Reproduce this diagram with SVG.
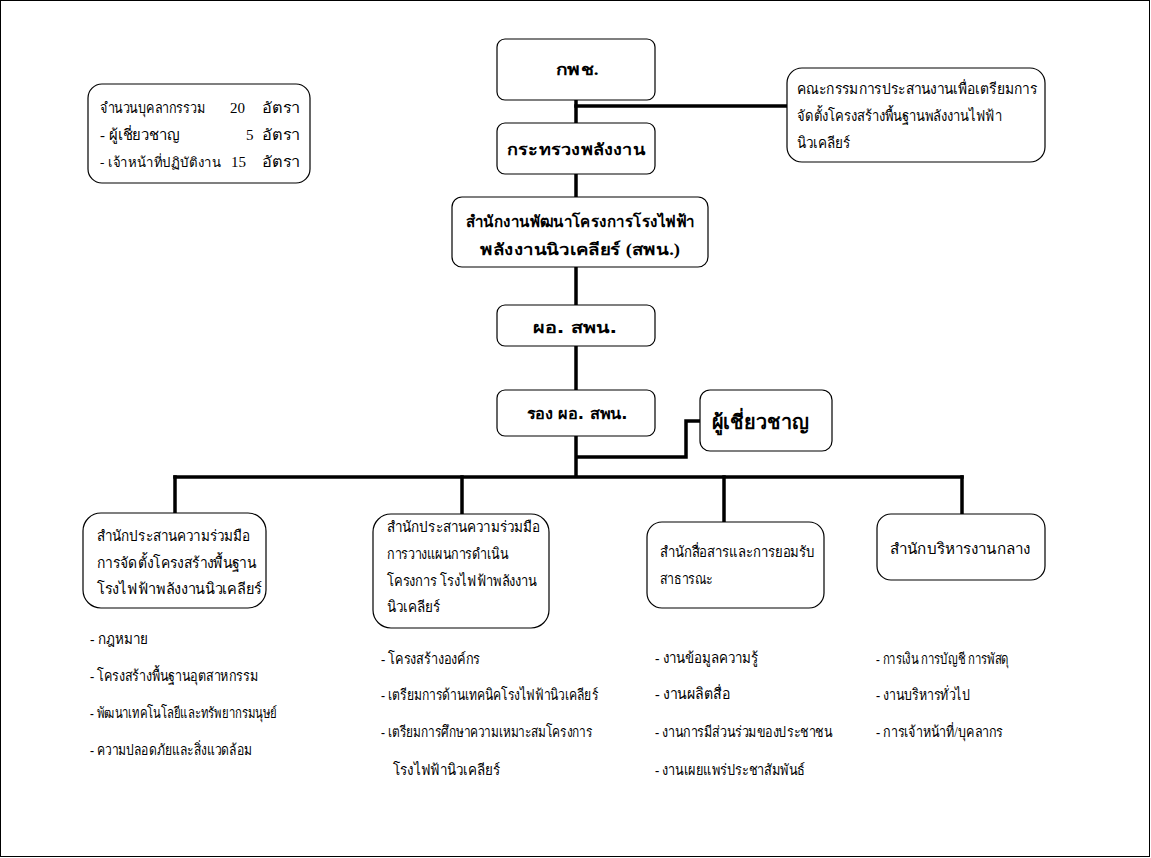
<svg xmlns="http://www.w3.org/2000/svg" width="1151" height="858" viewBox="0 0 1151 858">
<style>
.box{fill:#fff;stroke:#000;stroke-width:1.2}
.ln{fill:none;stroke:#000;stroke-width:3.5;stroke-linecap:square}
text{font-family:"Liberation Serif","DejaVu Serif",serif;font-size:15px;fill:#000}
.b{font-weight:bold;font-size:16px}
.c{text-anchor:middle}
</style>
<rect x="0.5" y="0.5" width="1149" height="856" fill="#fff" stroke="#000" stroke-width="1"/>
<g id="connectors">
<path class="ln" d="M576 100 V476"/>
<path class="ln" d="M576 106 H786"/>
<path class="ln" d="M578 457 H686 V421 H699"/>
<path class="ln" d="M175 477 H962"/>
<path class="ln" d="M175 477 V513"/>
<path class="ln" d="M462 477 V514"/>
<path class="ln" d="M724 477 V522"/>
<path class="ln" d="M962 477 V514"/>
</g>
<g id="info">
<rect class="box" x="88" y="84" width="222" height="99" rx="14"/>
<text x="100" y="113"><tspan textLength="105" lengthAdjust="spacingAndGlyphs">จำนวนบุคลากรรวม</tspan><tspan x="230">20</tspan><tspan x="262" textLength="38" lengthAdjust="spacingAndGlyphs">อัตรา</tspan></text>
<text x="100" y="140"><tspan textLength="80" lengthAdjust="spacingAndGlyphs">- ผู้เชี่ยวชาญ</tspan><tspan x="246">5</tspan><tspan x="262" textLength="38" lengthAdjust="spacingAndGlyphs">อัตรา</tspan></text>
<text x="100" y="167"><tspan style="font-size:13.5px" textLength="121" lengthAdjust="spacingAndGlyphs">- เจ้าหน้าที่ปฏิบัติงาน</tspan><tspan x="231">15</tspan><tspan x="262" textLength="38" lengthAdjust="spacingAndGlyphs">อัตรา</tspan></text>
</g>
<g id="n-kpc">
<rect class="box" x="497" y="39" width="158" height="61" rx="8"/>
<text class="b c" x="577" y="75" textLength="43" lengthAdjust="spacingAndGlyphs">กพช.</text>
</g>
<g id="n-committee">
<rect class="box" x="787" y="68" width="258" height="94" rx="15"/>
<text x="797" y="94" textLength="240" lengthAdjust="spacingAndGlyphs">คณะกรรมการประสานงานเพื่อเตรียมการ</text>
<text x="797" y="121" textLength="205" lengthAdjust="spacingAndGlyphs">จัดตั้งโครงสร้างพื้นฐานพลังงานไฟฟ้า</text>
<text x="797" y="148" textLength="53" lengthAdjust="spacingAndGlyphs">นิวเคลียร์</text>
</g>
<g id="n-ministry">
<rect class="box" x="497" y="123" width="158" height="51" rx="8"/>
<text class="b c" x="576" y="155" textLength="138" lengthAdjust="spacingAndGlyphs">กระทรวงพลังงาน</text>
</g>
<g id="n-office">
<rect class="box" x="452" y="197" width="256" height="70" rx="10"/>
<text class="b c" x="580" y="227" textLength="229" lengthAdjust="spacingAndGlyphs">สำนักงานพัฒนาโครงการโรงไฟฟ้า</text>
<text class="b c" x="580" y="255" textLength="200" lengthAdjust="spacingAndGlyphs">พลังงานนิวเคลียร์ (สพน.)</text>
</g>
<g id="n-director">
<rect class="box" x="497" y="305" width="158" height="41" rx="8"/>
<text class="b c" x="575" y="333" textLength="84" lengthAdjust="spacingAndGlyphs" style="font-family:'DejaVu Sans','Noto Sans',sans-serif;font-size:15px">ผอ. สพน.</text>
</g>
<g id="n-deputy">
<rect class="box" x="497" y="390" width="158" height="46" rx="8"/>
<text class="b c" x="577" y="419" textLength="101" lengthAdjust="spacingAndGlyphs" style="font-family:'DejaVu Sans','Noto Sans',sans-serif;font-size:15px">รอง ผอ. สพน.</text>
</g>
<g id="n-expert">
<rect class="box" x="700" y="390" width="132" height="61" rx="10"/>
<text class="b c" x="760" y="429" textLength="97" lengthAdjust="spacingAndGlyphs" style="font-family:'DejaVu Sans','Noto Sans',sans-serif;font-size:20px">ผู้เชี่ยวชาญ</text>
</g>
<g id="n-div1">
<rect class="box" x="83" y="513" width="183" height="95" rx="18"/>
<text x="97" y="541" textLength="153" lengthAdjust="spacingAndGlyphs">สำนักประสานความร่วมมือ</text>
<text x="97" y="568" textLength="159" lengthAdjust="spacingAndGlyphs">การจัดตั้งโครงสร้างพื้นฐาน</text>
<text x="97" y="594" textLength="165" lengthAdjust="spacingAndGlyphs">โรงไฟฟ้าพลังงานนิวเคลียร์</text>
<text x="90" y="644" textLength="58" lengthAdjust="spacingAndGlyphs">- กฎหมาย</text>
<text x="90" y="681" textLength="168" lengthAdjust="spacingAndGlyphs">- โครงสร้างพื้นฐานอุตสาหกรรม</text>
<text x="90" y="718" textLength="187" lengthAdjust="spacingAndGlyphs">- พัฒนาเทคโนโลยีและทรัพยากรมนุษย์</text>
<text x="90" y="755" textLength="162" lengthAdjust="spacingAndGlyphs">- ความปลอดภัยและสิ่งแวดล้อม</text>
</g>
<g id="n-div2">
<rect class="box" x="373" y="514" width="176" height="114" rx="18"/>
<text x="387" y="532" textLength="153" lengthAdjust="spacingAndGlyphs">สำนักประสานความร่วมมือ</text>
<text x="387" y="559" textLength="121" lengthAdjust="spacingAndGlyphs">การวางแผนการดำเนิน</text>
<text x="387" y="586" textLength="150" lengthAdjust="spacingAndGlyphs">โครงการ โรงไฟฟ้าพลังงาน</text>
<text x="387" y="612" textLength="53" lengthAdjust="spacingAndGlyphs">นิวเคลียร์</text>
<text x="381" y="664" textLength="99" lengthAdjust="spacingAndGlyphs">- โครงสร้างองค์กร</text>
<text x="381" y="700" textLength="217" lengthAdjust="spacingAndGlyphs">- เตรียมการด้านเทคนิคโรงไฟฟ้านิวเคลียร์</text>
<text x="381" y="737" textLength="211" lengthAdjust="spacingAndGlyphs">- เตรียมการศึกษาความเหมาะสมโครงการ</text>
<text x="393" y="775" textLength="107" lengthAdjust="spacingAndGlyphs">โรงไฟฟ้านิวเคลียร์</text>
</g>
<g id="n-div3">
<rect class="box" x="647" y="522" width="177" height="86" rx="15"/>
<text x="660" y="557" textLength="155" lengthAdjust="spacingAndGlyphs">สำนักสื่อสารและการยอมรับ</text>
<text x="660" y="584" textLength="53" lengthAdjust="spacingAndGlyphs">สาธารณะ</text>
<text x="655" y="663" textLength="103" lengthAdjust="spacingAndGlyphs">- งานข้อมูลความรู้</text>
<text x="655" y="699" textLength="75" lengthAdjust="spacingAndGlyphs">- งานผลิตสื่อ</text>
<text x="655" y="737" textLength="177" lengthAdjust="spacingAndGlyphs">- งานการมีส่วนร่วมของประชาชน</text>
<text x="655" y="775" textLength="150" lengthAdjust="spacingAndGlyphs">- งานเผยแพร่ประชาสัมพันธ์</text>
</g>
<g id="n-div4">
<rect class="box" x="877" y="514" width="168" height="66" rx="14"/>
<text x="890" y="554" textLength="140" lengthAdjust="spacingAndGlyphs">สำนักบริหารงานกลาง</text>
<text x="876" y="664" textLength="133" lengthAdjust="spacingAndGlyphs">- การเงิน การบัญชี การพัสดุ</text>
<text x="876" y="700" textLength="94" lengthAdjust="spacingAndGlyphs">- งานบริหารทั่วไป</text>
<text x="876" y="737" textLength="127" lengthAdjust="spacingAndGlyphs">- การเจ้าหน้าที่/บุคลากร</text>
</g>
</svg>
